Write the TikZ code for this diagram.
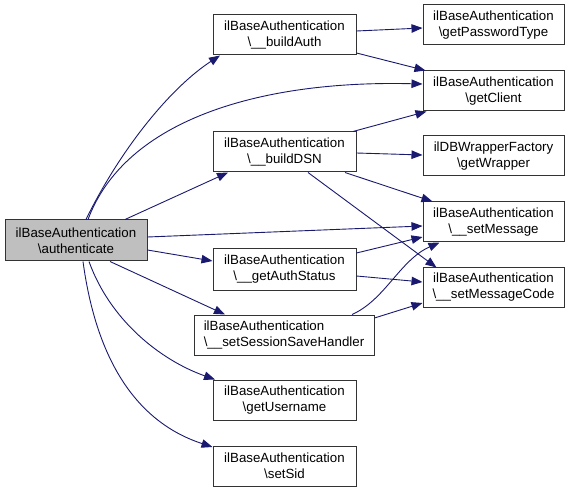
\documentclass[tikz,border=0pt]{standalone}
\usepackage{fontspec}
\setmainfont{Liberation Sans}
\usetikzlibrary{arrows.meta}
\definecolor{edgeblue}{RGB}{25,25,112}
\definecolor{boxgray}{RGB}{191,191,191}
\tikzset{
  fn/.style={draw=black!80, line width=1pt, fill=white, rectangle, inner sep=0pt,
    minimum width=143pt, minimum height=40pt, align=center,
    font=\fontsize{13.3}{16}\selectfont},
  call/.style={draw=edgeblue, line width=0.9pt, -{Triangle[length=11pt,width=8.5pt]}}
}
\begin{document}
\begin{tikzpicture}[x=1pt,y=-1pt]
\useasboundingbox (0,0) rectangle (571,492);
\node[fn, fill=boxgray, minimum width=142pt, minimum height=41pt] (A) at (76,240.5) {ilBaseAuthentication\\\textbackslash authenticate};
\node[fn] (B1) at (284.5,35) {ilBaseAuthentication\\\textbackslash\_\_buildAuth};
\node[fn] (B2) at (284.5,152) {ilBaseAuthentication\\\textbackslash\_\_buildDSN};
\node[fn, minimum height=41pt] (B3) at (284.5,269.5) {ilBaseAuthentication\\\textbackslash\_\_getAuthStatus};
\node[fn, minimum width=180pt, align=left] (B4) at (284,335) {ilBaseAuthentication\\\textbackslash\_\_setSessionSaveHandler};
\node[fn] (B5) at (284.5,400) {ilBaseAuthentication\\\textbackslash getUsername};
\node[fn] (B6) at (284.5,466) {ilBaseAuthentication\\\textbackslash setSid};
\node[fn, minimum width=141pt] (C1) at (493.5,25) {ilBaseAuthentication\\\textbackslash getPasswordType};
\node[fn, minimum width=141pt] (C2) at (493.5,91) {ilBaseAuthentication\\\textbackslash getClient};
\node[fn, minimum width=141pt] (C3) at (493.5,156) {ilDBWrapperFactory\\\textbackslash getWrapper};
\node[fn, minimum width=141pt] (C4) at (493.5,222) {ilBaseAuthentication\\\textbackslash\_\_setMessage};
\node[fn, minimum width=141pt, minimum height=39pt] (C5) at (493.5,287.5) {ilBaseAuthentication\\\textbackslash\_\_setMessageCode};

% from authenticate
\draw[call] ([xshift=10pt]A.north) .. controls (120,150) and (170,88) .. ([xshift=-64.5pt]B1.south);
\draw[call] ([xshift=12pt]A.north) .. controls (125,120) and (260,80) .. ([yshift=7pt]C2.west);
\draw[call] ([xshift=49pt]A.north) -- ([xshift=-56.5pt]B2.south);
\draw[call] ([yshift=3.5pt]A.east) -- ([yshift=-4pt]C4.west);
\draw[call] ([yshift=-9.5pt]A.east) -- ([yshift=8.5pt]B3.west);
\draw[call] ([xshift=34pt]A.south) -- ([xshift=-59pt]B4.north);
\draw[call] ([xshift=13pt]A.south) .. controls (110,320) and (160,360) .. ([xshift=-69.5pt]B5.north);
\draw[call] ([xshift=7pt]A.south) .. controls (95,350) and (130,420) .. ([yshift=19pt]B6.west);

% second level
\draw[call] ([yshift=4pt]B1.east) -- ([yshift=-3pt]C1.west);
\draw[call] ([yshift=-18pt]B1.east) -- ([xshift=3pt]C2.north west);
\draw[call] ([xshift=68.5pt]B2.north) -- ([xshift=4pt]C2.south west);
\draw[call] ([yshift=-1pt]B2.east) -- ([yshift=1pt]C3.west);
\draw[call] ([xshift=60.5pt]B2.south) -- ([xshift=10pt]C4.north west);
\draw[call] ([xshift=23.5pt]B2.south) -- ([xshift=14pt]C5.north west);
\draw[call] ([yshift=16.5pt]B3.east) -- ([yshift=-15pt]C4.west);
\draw[call] ([yshift=-6.5pt]B3.east) -- ([yshift=5.5pt]C5.west);
\draw[call] ([xshift=68pt]B4.north) .. controls (385,300) and (400,260) .. ([xshift=17pt]C4.south west);
\draw[call] ([yshift=17pt]B4.east) -- ([yshift=-15.5pt]C5.west);
\end{tikzpicture}
\end{document}
